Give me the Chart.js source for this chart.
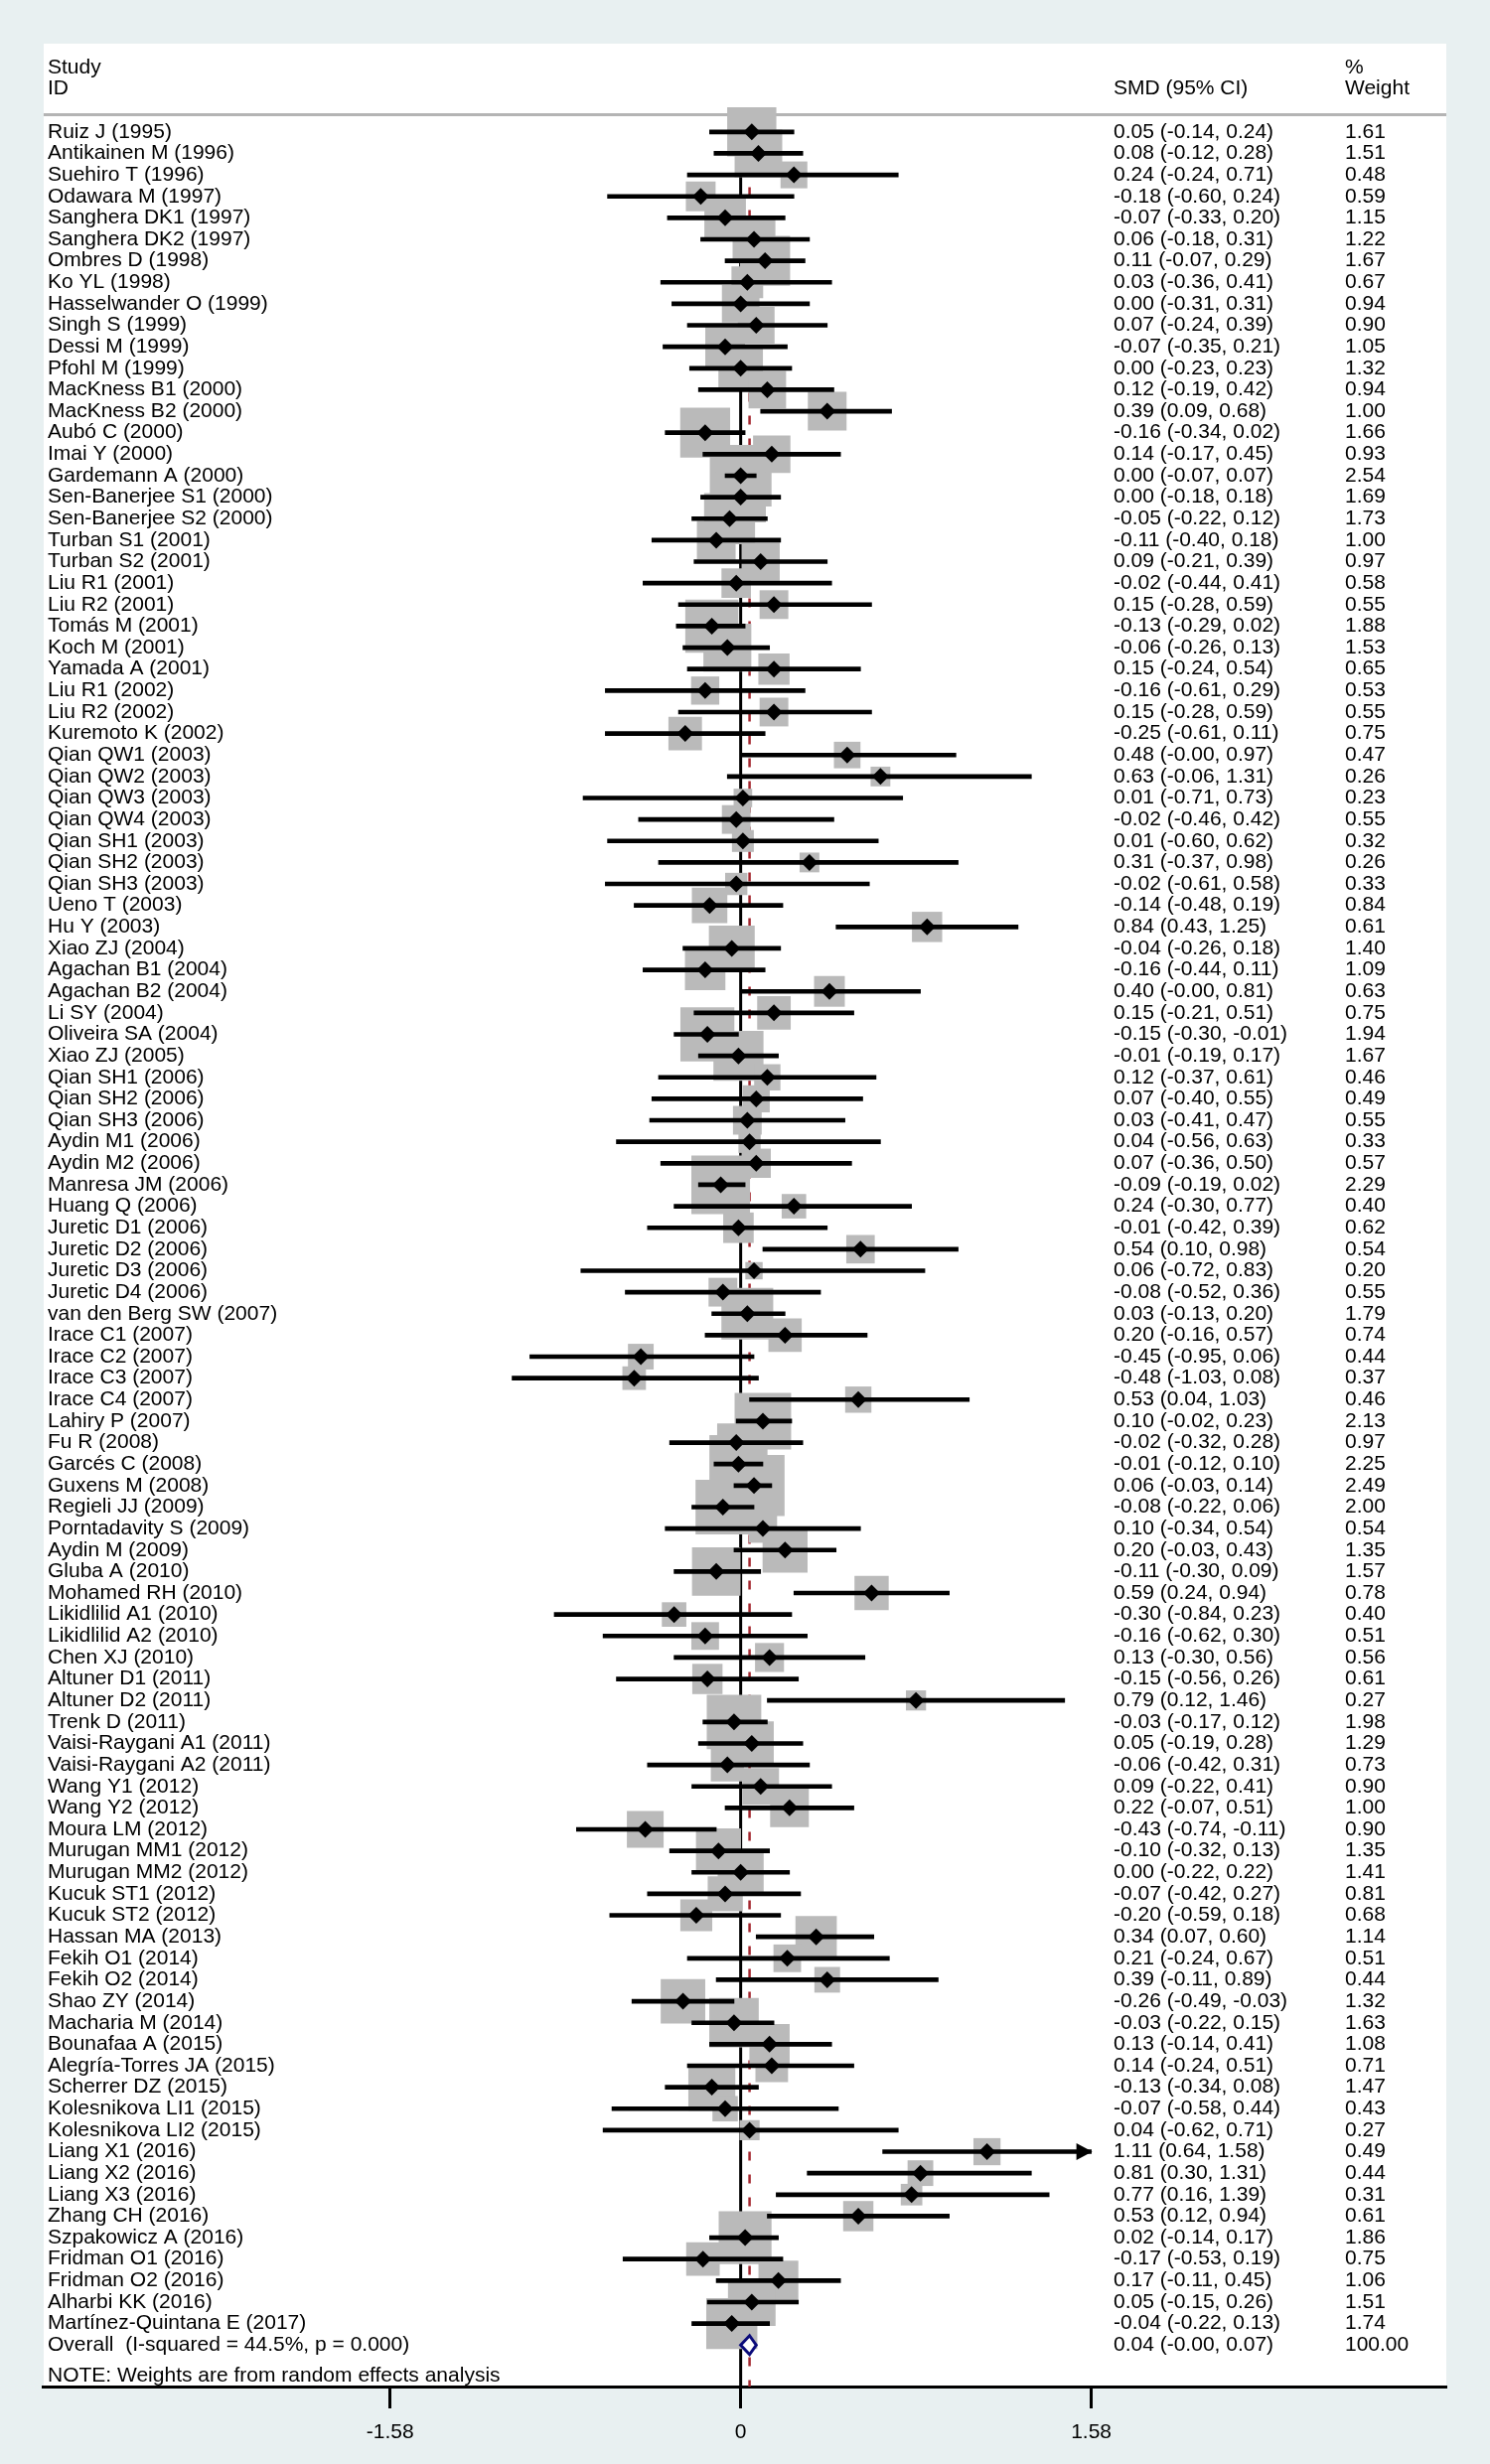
<!DOCTYPE html>
<html>
<head>
<meta charset="utf-8">
<title>Forest plot</title>
<script src="https://cdn.jsdelivr.net/npm/chart.js@4.4.1/dist/chart.umd.min.js"></script>
<style>
  html, body { margin: 0; padding: 0; background: #e8f0f1; }
  .chart { position: relative; width: 1500px; height: 2481px; }
</style>
</head>
<body>
<div class="chart"><canvas id="forest"></canvas></div>
<script>
// study data

const studies = [
  "Ruiz J (1995)", "Antikainen M (1996)", "Suehiro T (1996)", "Odawara M (1997)", "Sanghera DK1 (1997)",
  "Sanghera DK2 (1997)", "Ombres D (1998)", "Ko YL (1998)", "Hasselwander O (1999)", "Singh S (1999)",
  "Dessi M (1999)", "Pfohl M (1999)", "MacKness B1 (2000)", "MacKness B2 (2000)", "Aubó C (2000)",
  "Imai Y (2000)", "Gardemann A (2000)", "Sen-Banerjee S1 (2000)", "Sen-Banerjee S2 (2000)", "Turban S1 (2001)",
  "Turban S2 (2001)", "Liu R1 (2001)", "Liu R2 (2001)", "Tomás M (2001)", "Koch M (2001)",
  "Yamada A (2001)", "Liu R1 (2002)", "Liu R2 (2002)", "Kuremoto K (2002)", "Qian QW1 (2003)",
  "Qian QW2 (2003)", "Qian QW3 (2003)", "Qian QW4 (2003)", "Qian SH1 (2003)", "Qian SH2 (2003)",
  "Qian SH3 (2003)", "Ueno T (2003)", "Hu Y (2003)", "Xiao ZJ (2004)", "Agachan B1 (2004)",
  "Agachan B2 (2004)", "Li SY (2004)", "Oliveira SA (2004)", "Xiao ZJ (2005)", "Qian SH1 (2006)",
  "Qian SH2 (2006)", "Qian SH3 (2006)", "Aydin M1 (2006)", "Aydin M2 (2006)", "Manresa JM (2006)",
  "Huang Q (2006)", "Juretic D1 (2006)", "Juretic D2 (2006)", "Juretic D3 (2006)", "Juretic D4 (2006)",
  "van den Berg SW (2007)", "Irace C1 (2007)", "Irace C2 (2007)", "Irace C3 (2007)", "Irace C4 (2007)",
  "Lahiry P (2007)", "Fu R (2008)", "Garcés C (2008)", "Guxens M (2008)", "Regieli JJ (2009)",
  "Porntadavity S (2009)", "Aydin M (2009)", "Gluba A (2010)", "Mohamed RH (2010)", "Likidlilid A1 (2010)",
  "Likidlilid A2 (2010)", "Chen XJ (2010)", "Altuner D1 (2011)", "Altuner D2 (2011)", "Trenk D (2011)",
  "Vaisi-Raygani A1 (2011)", "Vaisi-Raygani A2 (2011)", "Wang Y1 (2012)", "Wang Y2 (2012)", "Moura LM (2012)",
  "Murugan MM1 (2012)", "Murugan MM2 (2012)", "Kucuk ST1 (2012)", "Kucuk ST2 (2012)", "Hassan MA (2013)",
  "Fekih O1 (2014)", "Fekih O2 (2014)", "Shao ZY (2014)", "Macharia M (2014)", "Bounafaa A (2015)",
  "Alegría-Torres JA (2015)", "Scherrer DZ (2015)", "Kolesnikova LI1 (2015)", "Kolesnikova LI2 (2015)", "Liang X1 (2016)",
  "Liang X2 (2016)", "Liang X3 (2016)", "Zhang CH (2016)", "Szpakowicz A (2016)", "Fridman O1 (2016)",
  "Fridman O2 (2016)", "Alharbi KK (2016)", "Martínez-Quintana E (2017)"
];

const smd = [
  0.05, 0.08, 0.24, -0.18, -0.07, 0.06, 0.11, 0.03, 0.00, 0.07,
  -0.07, 0.00, 0.12, 0.39, -0.16, 0.14, 0.00, 0.00, -0.05, -0.11,
  0.09, -0.02, 0.15, -0.13, -0.06, 0.15, -0.16, 0.15, -0.25, 0.48,
  0.63, 0.01, -0.02, 0.01, 0.31, -0.02, -0.14, 0.84, -0.04, -0.16,
  0.40, 0.15, -0.15, -0.01, 0.12, 0.07, 0.03, 0.04, 0.07, -0.09,
  0.24, -0.01, 0.54, 0.06, -0.08, 0.03, 0.20, -0.45, -0.48, 0.53,
  0.10, -0.02, -0.01, 0.06, -0.08, 0.10, 0.20, -0.11, 0.59, -0.30,
  -0.16, 0.13, -0.15, 0.79, -0.03, 0.05, -0.06, 0.09, 0.22, -0.43,
  -0.10, 0.00, -0.07, -0.20, 0.34, 0.21, 0.39, -0.26, -0.03, 0.13,
  0.14, -0.13, -0.07, 0.04, 1.11, 0.81, 0.77, 0.53, 0.02, -0.17,
  0.17, 0.05, -0.04
];

const lower = [
  -0.14, -0.12, -0.24, -0.60, -0.33, -0.18, -0.07, -0.36, -0.31, -0.24,
  -0.35, -0.23, -0.19, 0.09, -0.34, -0.17, -0.07, -0.18, -0.22, -0.40,
  -0.21, -0.44, -0.28, -0.29, -0.26, -0.24, -0.61, -0.28, -0.61, -0.00,
  -0.06, -0.71, -0.46, -0.60, -0.37, -0.61, -0.48, 0.43, -0.26, -0.44,
  -0.00, -0.21, -0.30, -0.19, -0.37, -0.40, -0.41, -0.56, -0.36, -0.19,
  -0.30, -0.42, 0.10, -0.72, -0.52, -0.13, -0.16, -0.95, -1.03, 0.04,
  -0.02, -0.32, -0.12, -0.03, -0.22, -0.34, -0.03, -0.30, 0.24, -0.84,
  -0.62, -0.30, -0.56, 0.12, -0.17, -0.19, -0.42, -0.22, -0.07, -0.74,
  -0.32, -0.22, -0.42, -0.59, 0.07, -0.24, -0.11, -0.49, -0.22, -0.14,
  -0.24, -0.34, -0.58, -0.62, 0.64, 0.30, 0.16, 0.12, -0.14, -0.53,
  -0.11, -0.15, -0.22
];

const upper = [
  0.24, 0.28, 0.71, 0.24, 0.20, 0.31, 0.29, 0.41, 0.31, 0.39,
  0.21, 0.23, 0.42, 0.68, 0.02, 0.45, 0.07, 0.18, 0.12, 0.18,
  0.39, 0.41, 0.59, 0.02, 0.13, 0.54, 0.29, 0.59, 0.11, 0.97,
  1.31, 0.73, 0.42, 0.62, 0.98, 0.58, 0.19, 1.25, 0.18, 0.11,
  0.81, 0.51, -0.01, 0.17, 0.61, 0.55, 0.47, 0.63, 0.50, 0.02,
  0.77, 0.39, 0.98, 0.83, 0.36, 0.20, 0.57, 0.06, 0.08, 1.03,
  0.23, 0.28, 0.10, 0.14, 0.06, 0.54, 0.43, 0.09, 0.94, 0.23,
  0.30, 0.56, 0.26, 1.46, 0.12, 0.28, 0.31, 0.41, 0.51, -0.11,
  0.13, 0.22, 0.27, 0.18, 0.60, 0.67, 0.89, -0.03, 0.15, 0.41,
  0.51, 0.08, 0.44, 0.71, 1.58, 1.31, 1.39, 0.94, 0.17, 0.19,
  0.45, 0.26, 0.13
];

const weights = [
  1.61, 1.51, 0.48, 0.59, 1.15, 1.22, 1.67, 0.67, 0.94, 0.90,
  1.05, 1.32, 0.94, 1.00, 1.66, 0.93, 2.54, 1.69, 1.73, 1.00,
  0.97, 0.58, 0.55, 1.88, 1.53, 0.65, 0.53, 0.55, 0.75, 0.47,
  0.26, 0.23, 0.55, 0.32, 0.26, 0.33, 0.84, 0.61, 1.40, 1.09,
  0.63, 0.75, 1.94, 1.67, 0.46, 0.49, 0.55, 0.33, 0.57, 2.29,
  0.40, 0.62, 0.54, 0.20, 0.55, 1.79, 0.74, 0.44, 0.37, 0.46,
  2.13, 0.97, 2.25, 2.49, 2.00, 0.54, 1.35, 1.57, 0.78, 0.40,
  0.51, 0.56, 0.61, 0.27, 1.98, 1.29, 0.73, 0.90, 1.00, 0.90,
  1.35, 1.41, 0.81, 0.68, 1.14, 0.51, 0.44, 1.32, 1.63, 1.08,
  0.71, 1.47, 0.43, 0.27, 0.49, 0.44, 0.31, 0.61, 1.86, 0.75,
  1.06, 1.51, 1.74
];

const overallLabel = "Overall  (I-squared = 44.5%, p = 0.000)";
const overallSmd = 0.04;
const overallLower = -0.00;
const overallUpper = 0.07;
const overallWeight = 100.00;

const xTicks = [-1.58, 0, 1.58];

const FONT = '21px "Liberation Sans", Arial, sans-serif';
const overallRow = studies.length;

function fmt(v) {
  // keep the sign of -0.00 like the original table
  if (Object.is(v, -0)) return "-0.00";
  return v.toFixed(2);
}

function ciText(est, lo, hi) {
  return `${fmt(est)} (${fmt(lo)}, ${fmt(hi)})`;
}

// background: pale frame with a white plot region
const backgroundPlugin = {
  id: "background",
  beforeDraw(chart) {
    const { ctx, chartArea } = chart;
    ctx.save();
    ctx.fillStyle = "#e8f0f1";
    ctx.fillRect(0, 0, chart.width, chart.height);
    ctx.fillStyle = "#ffffff";
    ctx.fillRect(chartArea.left, chartArea.top, chartArea.right - chartArea.left, chartArea.bottom - chartArea.top);
    ctx.restore();
  },
};

// header rule, null line and the dashed overall line sit under the boxes
const refLinesPlugin = {
  id: "refLines",
  beforeDatasetsDraw(chart) {
    const { ctx, chartArea } = chart;
    const x = chart.scales.x;
    const y = chart.scales.y;
    const ruleY = y.getPixelForValue(-0.8);
    ctx.save();
    ctx.strokeStyle = "#b4b4b4";
    ctx.lineWidth = 3;
    ctx.beginPath();
    ctx.moveTo(chartArea.left, ruleY);
    ctx.lineTo(chartArea.right, ruleY);
    ctx.stroke();

    ctx.strokeStyle = "#000000";
    ctx.lineWidth = 3;
    ctx.beginPath();
    ctx.moveTo(x.getPixelForValue(0), ruleY + 2);
    ctx.lineTo(x.getPixelForValue(0), chartArea.bottom);
    ctx.stroke();

    ctx.strokeStyle = "#a3262e";
    ctx.lineWidth = 2.5;
    ctx.setLineDash([9, 14]);
    ctx.beginPath();
    ctx.moveTo(x.getPixelForValue(overallSmd), ruleY + 4);
    ctx.lineTo(x.getPixelForValue(overallSmd), chartArea.bottom);
    ctx.stroke();
    ctx.restore();
  },
};

// arrow heads for clipped intervals and the pooled diamond
const overlayPlugin = {
  id: "overlay",
  afterDatasetsDraw(chart) {
    const { ctx } = chart;
    const x = chart.scales.x;
    const y = chart.scales.y;
    const xMax = xTicks[xTicks.length - 1];
    ctx.save();
    ctx.fillStyle = "#000000";
    upper.forEach((hi, i) => {
      if (hi < xMax) return;
      const tip = x.getPixelForValue(xMax) + 1;
      const py = y.getPixelForValue(i);
      ctx.beginPath();
      ctx.moveTo(tip, py);
      ctx.lineTo(tip - 16, py - 8.5);
      ctx.lineTo(tip - 16, py + 8.5);
      ctx.closePath();
      ctx.fill();
    });

    const py = y.getPixelForValue(overallRow);
    ctx.fillStyle = "#ffffff";
    ctx.strokeStyle = "#0b0b7a";
    ctx.lineWidth = 3;
    ctx.beginPath();
    ctx.moveTo(x.getPixelForValue(overallLower), py);
    ctx.lineTo(x.getPixelForValue(overallSmd), py - 9.5);
    ctx.lineTo(x.getPixelForValue(overallUpper), py);
    ctx.lineTo(x.getPixelForValue(overallSmd), py + 9.5);
    ctx.closePath();
    ctx.fill();
    ctx.stroke();
    ctx.restore();
  },
};

// text columns: study id, SMD (95% CI), % weight
const tablePlugin = {
  id: "table",
  afterDraw(chart) {
    const { ctx } = chart;
    const y = chart.scales.y;
    const colId = 48;
    const colCi = 1121;
    const colW = 1354;
    ctx.save();
    ctx.font = FONT;
    ctx.fillStyle = "#000000";
    ctx.textAlign = "left";
    ctx.textBaseline = "middle";

    ctx.fillText("Study", colId, y.getPixelForValue(-3));
    ctx.fillText("ID", colId, y.getPixelForValue(-2));
    ctx.fillText("SMD (95% CI)", colCi, y.getPixelForValue(-2));
    ctx.fillText("%", colW, y.getPixelForValue(-3));
    ctx.fillText("Weight", colW, y.getPixelForValue(-2));

    studies.forEach((name, i) => {
      const py = y.getPixelForValue(i);
      ctx.fillText(name, colId, py);
      ctx.fillText(ciText(smd[i], lower[i], upper[i]), colCi, py);
      ctx.fillText(weights[i].toFixed(2), colW, py);
    });

    const py = y.getPixelForValue(overallRow);
    ctx.fillText(overallLabel, colId, py);
    ctx.fillText(ciText(overallSmd, overallLower, overallUpper), colCi, py);
    ctx.fillText(overallWeight.toFixed(2), colW, py);

    ctx.fillText("NOTE: Weights are from random effects analysis", colId, y.getPixelForValue(overallRow + 1.45));
    ctx.restore();
  },
};

function createChart() {
  const ctx = document.getElementById("forest");
  const rows = studies.map((s, i) => i);

  new Chart(ctx, {
    type: "scatter",
    data: {
      datasets: [
        {
          label: "estimate",
          data: rows.map((i) => ({ x: smd[i], y: i })),
          pointStyle: "rectRot",
          pointRadius: 8.5,
          backgroundColor: "#000000",
          borderWidth: 0,
          order: 1,
        },
        {
          type: "bar",
          label: "95% CI",
          indexAxis: "y",
          data: rows.map((i) => ({ x: [lower[i], upper[i]], y: i })),
          backgroundColor: "#000000",
          borderWidth: 0,
          barThickness: 4,
          order: 2,
        },
        {
          label: "weight",
          data: rows.map((i) => ({ x: smd[i], y: i })),
          pointStyle: "rect",
          pointRadius: (c) => (39 * Math.sqrt(weights[c.dataIndex])) / Math.SQRT2,
          backgroundColor: "#bababa",
          borderWidth: 0,
          order: 3,
        },
      ],
    },
    options: {
      responsive: true,
      maintainAspectRatio: false,
      animation: false,
      events: [],
      layout: { padding: { left: 24, right: 38, top: 27, bottom: 0 } },
      plugins: {
        legend: { display: false },
        tooltip: { enabled: false },
      },
      scales: {
        x: {
          type: "linear",
          position: "bottom",
          offset: false,
          min: -3.141,
          max: 3.18,
          afterBuildTicks: (scale) => {
            scale.ticks = xTicks.map((v) => ({ value: v }));
          },
          afterFit: (scale) => {
            scale.height = 78;
          },
          grid: {
            display: true,
            offset: false,
            drawOnChartArea: false,
            drawTicks: true,
            tickLength: 22,
            tickWidth: 3,
            tickColor: "#000000",
          },
          border: { display: true, color: "#000000", width: 3 },
          ticks: {
            color: "#000000",
            padding: 12,
            font: { family: '"Liberation Sans", Arial, sans-serif', size: 21 },
            callback: (v) => (v === 0 ? "0" : v.toFixed(2)),
          },
        },
        y: {
          type: "linear",
          display: false,
          offset: false,
          reverse: true,
          min: -4.107,
          max: 104.93,
        },
      },
    },
    plugins: [backgroundPlugin, refLinesPlugin, overlayPlugin, tablePlugin],
  });
}

window.addEventListener("load", function () {
  createChart();
});
</script>
</body>
</html>
